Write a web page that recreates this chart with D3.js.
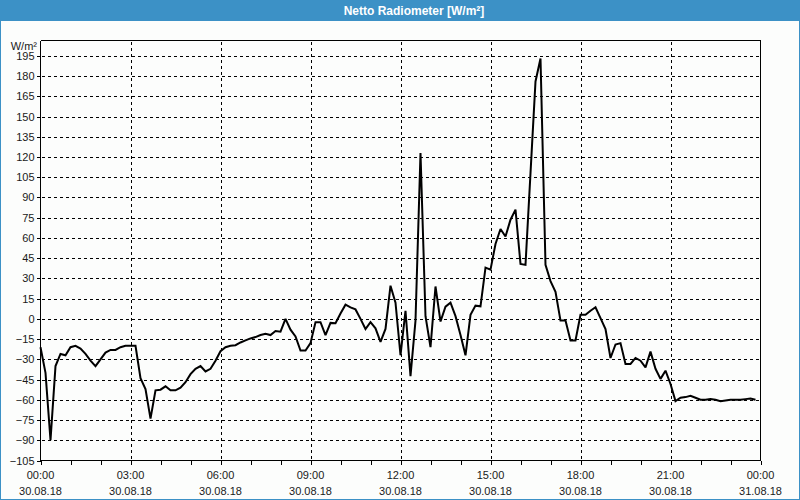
<!DOCTYPE html>
<html>
<head>
<meta charset="utf-8">
<script src="https://cdn.jsdelivr.net/npm/d3@7"></script>
<style>
  html, body { margin: 0; padding: 0; background: #fcfdfc; }
  svg { display: block; }
</style>
</head>
<body>
<svg id="chart" width="800" height="500"></svg>
<script>
// ---- data ----
const chartTitle = "Netto Radiometer [W/m²]";
const unitLabel = "W/m²";
const day = "2018-08-30";
const times = [
  "00:00","00:10","00:20","00:30","00:40","00:50",
  "01:00","01:10","01:20","01:30","01:40","01:50",
  "02:00","02:10","02:20","02:30","02:40","02:50",
  "03:00","03:10","03:20","03:30","03:40","03:50",
  "04:00","04:10","04:20","04:30","04:40","04:50",
  "05:00","05:10","05:20","05:30","05:40","05:50",
  "06:00","06:10","06:20","06:30","06:40","06:50",
  "07:00","07:10","07:20","07:30","07:40","07:50",
  "08:00","08:10","08:20","08:30","08:40","08:50",
  "09:00","09:10","09:20","09:30","09:40","09:50",
  "10:00","10:10","10:20","10:30","10:40","10:50",
  "11:00","11:10","11:20","11:30","11:40","11:50",
  "12:00","12:10","12:20","12:30","12:40","12:50",
  "13:00","13:10","13:20","13:30","13:40","13:50",
  "14:00","14:10","14:20","14:30","14:40","14:50",
  "15:00","15:10","15:20","15:30","15:40","15:50",
  "16:00","16:10","16:20","16:30","16:40","16:50",
  "17:00","17:10","17:20","17:30","17:40","17:50",
  "18:00","18:10","18:20","18:30","18:40","18:50",
  "19:00","19:10","19:20","19:30","19:40","19:50",
  "20:00","20:10","20:20","20:30","20:40","20:50",
  "21:00","21:10","21:20","21:30","21:40","21:50",
  "22:00","22:10","22:20","22:30","22:40","22:50",
  "23:00","23:10","23:20","23:30","23:40","23:50"
];
const values = [
  -21, -40, -90, -35, -26, -27,
  -21, -20, -22, -26, -31, -35,
  -30, -25, -23, -23, -21, -20,
  -20, -20, -44, -52, -74, -53,
  -52.5, -50, -53, -53, -51, -47,
  -41, -37, -35, -39, -37, -31,
  -24, -21, -20, -19.5, -17.5, -16,
  -14.5, -13.5, -12, -11, -12, -9,
  -9.5, 0, -8, -13, -23.5, -23.5,
  -18, -2.5, -2.5, -12, -3, -3.3,
  4, 10.5, 8.5, 7, 0, -7.5,
  -2.5, -7, -17, -7.5, 24.6, 12,
  -27, 6, -42.5, -1.3, 123, 2,
  -21, 24, -2, 9, 12, 2,
  -12, -27, 3, 9.8, 9.3, 38,
  36.5, 55.5, 66.6, 61, 73.5, 81,
  40.7, 40, 108, 176, 193, 40,
  28, 20, -1.3, -1.3, -16, -16,
  3, 3, 6, 8.6, 0.5, -7.5,
  -29, -19, -18, -33.4, -33.4, -29,
  -31, -36, -24.3, -37, -44.5, -38.4,
  -48.3, -61, -58.5, -58, -57, -58.5,
  -60, -60, -59.4, -60, -61, -60.5,
  -60, -60, -60, -59.5, -59, -60
];
const yTicks = [-105,-90,-75,-60,-45,-30,-15,0,15,30,45,60,75,90,105,120,135,150,165,180,195];
const xTickTimes = ["2018-08-30T00:00","2018-08-30T03:00","2018-08-30T06:00","2018-08-30T09:00","2018-08-30T12:00","2018-08-30T15:00","2018-08-30T18:00","2018-08-30T21:00","2018-08-31T00:00"];
const xTickHours = ["00:00","03:00","06:00","09:00","12:00","15:00","18:00","21:00","00:00"];
const xTickDates = ["30.08.18","30.08.18","30.08.18","30.08.18","30.08.18","30.08.18","30.08.18","30.08.18","31.08.18"];

// ---- drawing ----
(function () {
const W = 800, H = 500;
const svg = d3.select("#chart");
const font = "Tahoma, 'Liberation Sans', Arial, sans-serif";
const textColor = "#1a1a1a";

const parse = d3.timeParse("%Y-%m-%dT%H:%M");
const data = times.map((t, i) => ({ t: parse(day + "T" + t), v: values[i] }));

const x = d3.scaleTime()
  .domain([parse("2018-08-30T00:00"), parse("2018-08-31T00:00")])
  .range([40.5, 760.5]);
const y = d3.scaleLinear().domain([-105, 195]).range([460.5, 55.8]);

svg.append("rect").attr("width", W).attr("height", H).attr("fill", "#fcfdfc");

const blue = "#3c91c6";
svg.append("rect").attr("x", 0).attr("y", 0).attr("width", W).attr("height", 21).attr("fill", blue);
svg.append("text").attr("x", 414).attr("y", 15)
  .attr("text-anchor", "middle").attr("fill", "#ffffff")
  .attr("font-family", font).attr("font-weight", "bold").attr("font-size", 12)
  .text(chartTitle);
svg.append("rect").attr("x", 0.5).attr("y", 0.5).attr("width", W - 1).attr("height", H - 1)
  .attr("fill", "none").attr("stroke", blue).attr("stroke-width", 1);

const pTop = 40.5, pBottom = 460.5, pLeft = 40.5, pRight = 760.5;

const grid = svg.append("g").attr("shape-rendering", "crispEdges")
  .attr("stroke", "#000").attr("stroke-width", 1).attr("stroke-dasharray", "3,3");
grid.selectAll("line.h").data(yTicks.filter(v => v > -105))
  .join("line").attr("class", "h")
  .attr("x1", pLeft + 1).attr("x2", pRight)
  .attr("y1", d => Math.round(y(d)) + 0.5).attr("y2", d => Math.round(y(d)) + 0.5);
grid.selectAll("line.v").data(xTickTimes.slice(1, -1).map(parse))
  .join("line").attr("class", "v")
  .attr("x1", d => Math.round(x(d)) + 0.5).attr("x2", d => Math.round(x(d)) + 0.5)
  .attr("y1", pTop + 1).attr("y2", pBottom);

svg.append("line").attr("x1", pLeft).attr("x2", pRight).attr("y1", pTop).attr("y2", pTop)
  .attr("stroke", "#000").attr("shape-rendering", "crispEdges");
svg.append("line").attr("x1", pRight).attr("x2", pRight).attr("y1", pTop).attr("y2", pBottom)
  .attr("stroke", "#000").attr("shape-rendering", "crispEdges");

const yAxis = d3.axisLeft(y).tickValues(yTicks).tickSize(4).tickPadding(2).tickFormat(d3.format("d"));
const gy = svg.append("g").attr("transform", `translate(${pLeft},0)`).call(yAxis);
gy.select(".domain").attr("d", `M0,${pTop}V${pBottom}`).attr("stroke", "#000").attr("shape-rendering", "crispEdges");
gy.selectAll(".tick").attr("transform", d => `translate(0,${Math.round(y(d)) + 0.5})`);
gy.selectAll(".tick line").attr("stroke", "#000").attr("shape-rendering", "crispEdges");
gy.selectAll(".tick text").attr("font-family", font).attr("font-size", 11).attr("fill", textColor)
  .attr("dy", "0.36em");

svg.append("text").attr("x", 37).attr("y", 50).attr("text-anchor", "end")
  .attr("font-family", font).attr("font-size", 11).attr("fill", textColor).text(unitLabel);

const hourTicks = d3.timeHour.range(parse("2018-08-30T00:00"), d3.timeHour.offset(parse("2018-08-31T00:00"), 1));
const xAxis = d3.axisBottom(x).tickValues(hourTicks).tickSize(4).tickFormat("");
const gx = svg.append("g").attr("transform", `translate(0,${pBottom})`).call(xAxis);
gx.select(".domain").attr("d", `M${pLeft},0H${pRight}`).attr("stroke", "#000").attr("shape-rendering", "crispEdges");
gx.selectAll(".tick line").attr("stroke", "#000").attr("shape-rendering", "crispEdges");

const xl = svg.append("g").attr("font-family", font).attr("font-size", 11).attr("fill", textColor)
  .attr("text-anchor", "middle");
xl.selectAll("text.h").data(xTickTimes).join("text").attr("class", "h")
  .attr("x", d => x(parse(d))).attr("y", 479).text((d, i) => xTickHours[i]);
xl.selectAll("text.d").data(xTickTimes).join("text").attr("class", "d")
  .attr("x", d => x(parse(d))).attr("y", 495).text((d, i) => xTickDates[i]);

const line = d3.line().x(d => x(d.t)).y(d => y(d.v));
svg.append("path").datum(data).attr("d", line)
  .attr("fill", "none").attr("stroke", "#000").attr("stroke-width", 2)
  .attr("stroke-linejoin", "miter").attr("stroke-miterlimit", 2);
})();
</script>
</body>
</html>
